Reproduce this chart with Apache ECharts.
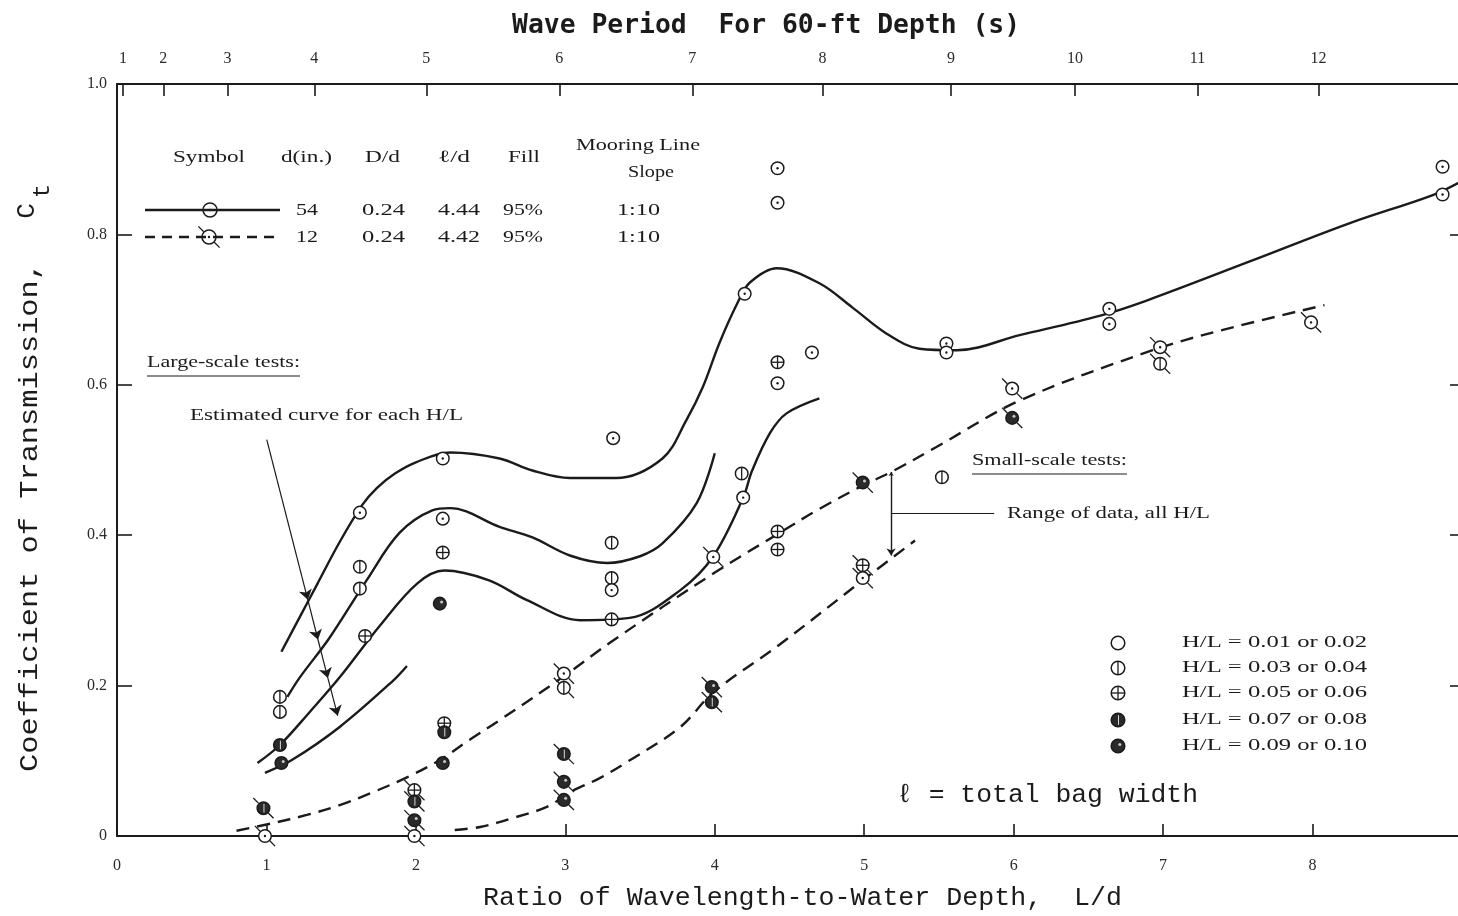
<!DOCTYPE html>
<html>
<head>
<meta charset="utf-8">
<script src="https://cdn.jsdelivr.net/npm/echarts@6/dist/echarts.min.js"></script>
<style>
  html, body { margin: 0; padding: 0; background: #ffffff; }
  #chart { width: 1458px; height: 916px; }
</style>
</head>
<body>
<div id="chart"></div>
<script>
// ---- Top scale: wave period (s) for a 60-ft depth, placed at its L/d value ----
const periodLabels = ['1', '2', '3', '4', '5', '6', '7', '8', '9', '10', '11', '12'];
const periodPositions = [0.04, 0.31, 0.74, 1.32, 2.07, 2.96, 3.85, 4.72, 5.58, 6.41, 7.23, 8.04];

// ---- Large-scale tests (d = 54 in.): estimated curve for each H/L, [L/d, Ct] ----
const largeCurveA = [[1.10, 0.245], [1.22, 0.290], [1.34, 0.335], [1.49, 0.391], [1.64, 0.440], [1.74, 0.463],
  [1.86, 0.482], [2.00, 0.497], [2.23, 0.510], [2.56, 0.502], [2.78, 0.486], [3.03, 0.476], [3.34, 0.476], [3.65, 0.502],
  [3.81, 0.553], [3.92, 0.597], [4.03, 0.655], [4.155, 0.710], [4.235, 0.736], [4.415, 0.755], [4.70, 0.735],
  [4.92, 0.703], [5.15, 0.668], [5.37, 0.648], [5.62, 0.646], [6.04, 0.666], [6.58, 0.692], [6.89, 0.712],
  [7.58, 0.764], [8.25, 0.815], [8.80, 0.852], [8.98, 0.869]];
const largeCurveB = [[1.14, 0.185], [1.22, 0.210], [1.42, 0.263], [1.67, 0.340], [1.89, 0.403], [2.11, 0.433],
  [2.23, 0.436], [2.56, 0.411], [2.78, 0.397], [3.03, 0.373], [3.28, 0.363], [3.50, 0.372], [3.65, 0.389],
  [3.88, 0.443], [4.00, 0.509]];
const largeCurveC = [[0.94, 0.097], [1.09, 0.121], [1.29, 0.165], [1.49, 0.211], [1.76, 0.280], [2.01, 0.336],
  [2.19, 0.353], [2.49, 0.340], [2.74, 0.314], [3.10, 0.287], [3.43, 0.290], [3.77, 0.327], [3.99, 0.372],
  [4.19, 0.450], [4.25, 0.486], [4.37, 0.536], [4.48, 0.562], [4.70, 0.582]];
const largeCurveD = [[0.99, 0.084], [1.17, 0.101], [1.49, 0.145], [1.85, 0.207], [1.94, 0.226]];

// ---- Small-scale tests (d = 12 in.): bounds of the data, all H/L ----
const smallUpper = [[0.80, 0.007], [1.04, 0.017], [1.27, 0.028], [1.49, 0.041], [1.71, 0.058], [1.94, 0.078],
  [2.16, 0.101], [2.36, 0.128], [2.56, 0.154], [2.98, 0.211], [3.32, 0.260], [3.99, 0.349], [4.45, 0.405],
  [4.70, 0.435], [4.99, 0.466], [5.19, 0.485], [5.48, 0.517], [6.04, 0.579], [6.93, 0.646], [7.38, 0.672],
  [8.08, 0.706]];
const smallLower = [[2.26, 0.008], [2.43, 0.012], [2.65, 0.024], [2.88, 0.039], [3.03, 0.058], [3.23, 0.077],
  [3.41, 0.098], [3.77, 0.145], [3.99, 0.191], [4.43, 0.254], [4.99, 0.340], [5.34, 0.393]];

// ---- Measured points: [L/d, Ct, H/L class] (0: .01-.02, 1: .03-.04, 2: .05-.06, 3: .07-.08, 4: .09-.10) ----
const largeScalePoints = [
  [1.625, 0.430, 0], [2.18, 0.502, 0], [2.18, 0.422, 0], [2.18, 0.377, 2], [2.16, 0.309, 4],
  [1.625, 0.358, 1], [1.625, 0.329, 1], [1.66, 0.266, 2], [1.09, 0.185, 1], [1.09, 0.165, 1],
  [1.09, 0.121, 3], [1.10, 0.097, 4], [2.19, 0.150, 2], [2.19, 0.138, 3], [2.18, 0.097, 4],
  [3.32, 0.529, 0], [3.31, 0.390, 1], [3.31, 0.343, 1], [3.31, 0.327, 0], [3.31, 0.288, 2],
  [4.18, 0.482, 1], [4.19, 0.450, 0], [4.20, 0.721, 0], [4.42, 0.630, 2], [4.42, 0.602, 0],
  [4.65, 0.643, 0], [4.42, 0.405, 2], [4.42, 0.381, 2], [4.42, 0.888, 0], [4.42, 0.842, 0],
  [5.55, 0.655, 0], [5.55, 0.643, 0], [5.52, 0.477, 1], [6.64, 0.701, 0], [6.64, 0.681, 0],
  [8.87, 0.890, 0], [8.87, 0.853, 0]
];
const smallScalePoints = [
  [0.98, 0.037, 3], [0.99, 0.000, 0], [1.99, 0.061, 2], [1.99, 0.046, 3], [1.99, 0.021, 4], [1.99, 0.000, 0],
  [2.99, 0.216, 0], [2.99, 0.197, 1], [2.99, 0.109, 3], [2.99, 0.072, 4], [2.99, 0.048, 4],
  [3.98, 0.198, 4], [3.98, 0.178, 3], [3.99, 0.371, 0], [4.99, 0.470, 4], [4.99, 0.360, 2],
  [4.99, 0.343, 0], [5.99, 0.595, 0], [5.99, 0.556, 4], [6.98, 0.650, 0], [6.98, 0.628, 1], [7.99, 0.683, 0]
];

// ---- Annotation leaders, in [L/d, Ct] ----
const estimateArrow = [[1.002, 0.527], [1.277, 0.314], [1.345, 0.261], [1.411, 0.210], [1.477, 0.160]];
const rangeBar = [[5.18, 0.484], [5.18, 0.373]];
const rangeLeader = [[5.18, 0.429], [5.87, 0.429]];

// ---- Key texts ----
const hlClassLabels = ['H/L = 0.01 or 0.02', 'H/L = 0.03 or 0.04', 'H/L = 0.05 or 0.06',
  'H/L = 0.07 or 0.08', 'H/L = 0.09 or 0.10'];
const keyHeads = ['Symbol', 'd(in.)', 'D/d', 'ℓ/d', 'Fill'];
const keyRowLarge = ['54', '0.24', '4.44', '95%', '1:10'];
const keyRowSmall = ['12', '0.24', '4.42', '95%', '1:10'];

const INK = '#1b1b1b';
const SERIF = '"Liberation Serif", "Times New Roman", serif';
const MONO = '"Liberation Mono", "DejaVu Sans Mono", monospace';

// Glyph for one test point: circle, H/L marks, centre dot and small-scale tails
function markShapes(cx, cy, cls, dot, tail, r) {
  const out = [];
  if (tail) {
    const a = (r + 0.5) / Math.SQRT2, b = (r + 8) / Math.SQRT2;
    out.push({ type: 'line', shape: { x1: cx - b, y1: cy - b, x2: cx - a, y2: cy - a }, style: { stroke: INK, lineWidth: 1.3 } });
    out.push({ type: 'line', shape: { x1: cx + a, y1: cy + a, x2: cx + b, y2: cy + b }, style: { stroke: INK, lineWidth: 1.3 } });
  }
  const dark = cls >= 3;
  out.push({ type: 'circle', shape: { cx: cx, cy: cy, r: r }, style: { fill: dark ? '#2a2a2a' : '#ffffff', stroke: INK, lineWidth: 1.5 } });
  if (cls === 1 || cls === 2) {
    out.push({ type: 'line', shape: { x1: cx, y1: cy - r, x2: cx, y2: cy + r }, style: { stroke: INK, lineWidth: 1.3 } });
  }
  if (cls === 2) {
    out.push({ type: 'line', shape: { x1: cx - r, y1: cy, x2: cx + r, y2: cy }, style: { stroke: INK, lineWidth: 1.3 } });
  }
  if (cls === 3) {
    out.push({ type: 'line', shape: { x1: cx + 0.5, y1: cy - r + 2, x2: cx + 0.5, y2: cy + r - 2 }, style: { stroke: '#d8d8d8', lineWidth: 1 } });
  }
  if (cls === 4) {
    out.push({ type: 'circle', shape: { cx: cx + 1.8, cy: cy - 1.6, r: 1.5 }, style: { fill: '#c8c8c8' } });
  }
  if (dot && cls === 0) {
    out.push({ type: 'circle', shape: { cx: cx, cy: cy, r: 1.2 }, style: { fill: INK } });
  }
  return out;
}

function pointSeries(data, tail) {
  return {
    type: 'custom', coordinateSystem: 'cartesian2d', data: data, clip: false, z: 6,
    encode: { x: 0, y: 1 },
    renderItem: function (params, api) {
      const p = api.coord([api.value(0), api.value(1)]);
      return { type: 'group', children: markShapes(p[0], p[1], api.value(2), true, tail, 6.3) };
    }
  };
}

function curveSeries(data, dashed) {
  return {
    type: 'line', data: data, symbol: 'none', showSymbol: false, smooth: 0.35, z: 3,
    lineStyle: { color: INK, width: 2.4, type: dashed ? [13, 8] : 'solid' }
  };
}

// Text stretched to span [left, right] so the printed letter spacing is kept
const measureCtx = document.createElement('canvas').getContext('2d');
function textWidth(text, size, family, weight) {
  measureCtx.font = (weight ? weight + ' ' : '') + size + 'px ' + family;
  return measureCtx.measureText(text).width;
}
function fitText(text, left, right, y, size, family, extra) {
  const w = textWidth(text, size, family, extra && extra.fontWeight);
  return {
    type: 'text', x: (left + right) / 2, y: y, scaleX: (right - left) / w, z: 20,
    style: Object.assign({ text: text, fontSize: size, fontFamily: family, fill: INK, align: 'center', verticalAlign: 'middle' }, extra || {})
  };
}

function rule(x1, y1, x2, y2, w, dash) {
  return { type: 'line', z: 19, shape: { x1: x1, y1: y1, x2: x2, y2: y2 }, style: { stroke: INK, lineWidth: w, lineDash: dash || null } };
}

const graphics = [];
// Titles
graphics.push(fitText('Wave Period  For 60-ft Depth (s)', 512, 1020, 26, 26, '"DejaVu Sans Mono", monospace', { fontWeight: 'bold' }));
graphics.push(fitText('Ratio of Wavelength-to-Water Depth,  L/d', 483, 1122, 898, 26, MONO));
// Vertical axis title, read bottom to top, spanning y = 772 .. 262
const yTitle = 'Coefficient of Transmission,';
graphics.push({ type: 'text', x: 30, y: 517, rotation: Math.PI / 2, z: 20,
  scaleX: 510 / textWidth(yTitle, 26, MONO),
  style: { text: yTitle, fontSize: 26, fontFamily: MONO, fill: INK, align: 'center', verticalAlign: 'middle' } });
graphics.push({ type: 'text', x: 27, y: 211, rotation: Math.PI / 2, z: 20,
  style: { text: 'C', fontSize: 26, fontFamily: MONO, fill: INK, align: 'center', verticalAlign: 'middle' } });
graphics.push({ type: 'text', x: 43, y: 191, rotation: Math.PI / 2, z: 20,
  style: { text: 't', fontSize: 24, fontFamily: MONO, fill: INK, align: 'center', verticalAlign: 'middle' } });
graphics.push(fitText('ℓ = total bag width', 897, 1198, 795, 26, MONO));

// Key: model and test conditions
const headSpans = [[173, 245], [281, 332], [365, 400], [438, 470], [508, 540]];
const rowSpans = [[296, 318], [362, 405], [438, 480], [503, 543], [617, 660]];
keyHeads.forEach(function (t, i) { graphics.push(fitText(t, headSpans[i][0], headSpans[i][1], 158, 17, SERIF)); });
graphics.push(fitText('Mooring Line', 576, 700, 146, 17, SERIF));
graphics.push(fitText('Slope', 628, 674, 173, 17, SERIF));
keyRowLarge.forEach(function (t, i) { graphics.push(fitText(t, rowSpans[i][0], rowSpans[i][1], 211, 17, SERIF)); });
keyRowSmall.forEach(function (t, i) { graphics.push(fitText(t, rowSpans[i][0], rowSpans[i][1], 238, 17, SERIF)); });
graphics.push(rule(145, 210, 280, 210, 2.4));
graphics.push({ type: 'group', z: 21, children: markShapes(210, 210, 0, true, false, 7) });
graphics.push(rule(145, 237, 280, 237, 2.4, [10, 7]));
graphics.push({ type: 'group', z: 21, children: markShapes(209, 237, 0, true, true, 7) });

// Annotations
graphics.push(fitText('Large-scale tests:', 147, 300, 363, 17, SERIF));
graphics.push(rule(147, 376, 300, 376, 1.2));
graphics.push(fitText('Estimated curve for each H/L', 190, 463, 416, 17, SERIF));
graphics.push(fitText('Small-scale tests:', 972, 1127, 461, 17, SERIF));
graphics.push(rule(972, 474, 1127, 474, 1.2));
graphics.push(fitText('Range of data, all H/L', 1007, 1210, 514, 17, SERIF));

// Key: H/L classes
hlClassLabels.forEach(function (t, i) {
  const y = [643, 668, 693, 720, 746][i];
  graphics.push({ type: 'group', z: 21, children: markShapes(1118, y, i, false, false, 6.8) });
  graphics.push(fitText(t, 1182, 1367, y, 16, SERIF));
});

function segments(path) {
  const out = [];
  for (let i = 0; i < path.length - 1; i++) out.push({ coords: [path[i], path[i + 1]] });
  return out;
}

const option = {
  backgroundColor: '#ffffff',
  animation: false,
  grid: { left: 117, top: 84, width: 1345, height: 752, containLabel: false, outerBoundsMode: 'none' },
  xAxis: [
    {
      type: 'value', position: 'bottom', min: 0, max: 9, interval: 1,
      axisLine: { show: true, onZero: false, lineStyle: { color: INK, width: 2 } },
      axisTick: { show: true, inside: true, length: 12, lineStyle: { color: INK, width: 1.6 } },
      axisLabel: { show: true, margin: 22, fontSize: 16, fontFamily: SERIF, color: '#2a2a2a', showMaxLabel: false },
      splitLine: { show: false }
    },
    {
      type: 'value', position: 'top', min: 0, max: 9,
      axisLine: { show: true, onZero: false, lineStyle: { color: INK, width: 2 } },
      axisTick: { show: true, inside: true, length: 12, customValues: periodPositions, lineStyle: { color: INK, width: 1.6 } },
      axisLabel: {
        show: true, margin: 17, fontSize: 16, fontFamily: SERIF, color: '#2a2a2a',
        customValues: periodPositions,
        formatter: function (v) { const i = periodPositions.indexOf(v); return i >= 0 ? periodLabels[i] : ''; }
      },
      splitLine: { show: false }
    }
  ],
  yAxis: [
    {
      type: 'value', position: 'left', min: 0, max: 1, interval: 0.2,
      axisLine: { show: true, onZero: false, lineStyle: { color: INK, width: 2 } },
      axisTick: { show: true, inside: true, length: 15, lineStyle: { color: INK, width: 1.6 } },
      axisLabel: { show: true, margin: 10, fontSize: 16, fontFamily: SERIF, color: '#2a2a2a',
        formatter: function (v) { return v === 0 ? '0' : v.toFixed(1); } },
      splitLine: { show: false }
    },
    {
      type: 'value', position: 'right', min: 0, max: 1, interval: 0.2,
      axisLine: { show: true, onZero: false, lineStyle: { color: INK, width: 2 } },
      axisTick: { show: true, inside: true, length: 12, lineStyle: { color: INK, width: 1.6 } },
      axisLabel: { show: false },
      splitLine: { show: false }
    }
  ],
  graphic: graphics,
  series: [
    curveSeries(largeCurveA, false),
    curveSeries(largeCurveB, false),
    curveSeries(largeCurveC, false),
    curveSeries(largeCurveD, false),
    curveSeries(smallUpper, true),
    curveSeries(smallLower, true),
    pointSeries(largeScalePoints, false),
    pointSeries(smallScalePoints, true),
    {
      type: 'lines', coordinateSystem: 'cartesian2d', z: 4,
      data: segments(estimateArrow), symbol: ['none', 'arrow'], symbolSize: [6, 10],
      lineStyle: { color: INK, width: 1.2, opacity: 1 }
    },
    {
      type: 'lines', coordinateSystem: 'cartesian2d', z: 4,
      data: segments(rangeBar), symbol: ['arrow', 'arrow'], symbolSize: [4, 7],
      lineStyle: { color: INK, width: 1.4, opacity: 1 }
    },
    {
      type: 'lines', coordinateSystem: 'cartesian2d', z: 4,
      data: segments(rangeLeader), symbol: ['none', 'none'],
      lineStyle: { color: INK, width: 1.1, opacity: 1 }
    }
  ]
};

const chart = echarts.init(document.getElementById('chart'), null, { renderer: 'canvas' });
chart.setOption(option);
</script>
</body>
</html>
